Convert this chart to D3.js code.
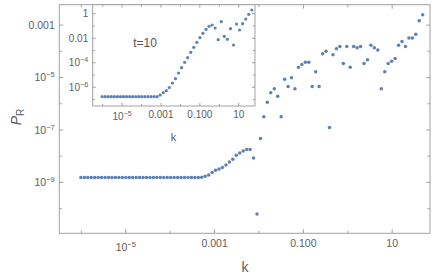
<!DOCTYPE html>
<html><head><meta charset="utf-8">
<script src="https://cdn.jsdelivr.net/npm/d3@7"></script>
<style>
html,body{margin:0;padding:0;background:#fff;}
svg{display:block;font-family:"Liberation Sans",Arial,sans-serif;}
</style></head>
<body><svg id="c" width="436" height="280"></svg>
<script>
// ---- data ----
const kMain = [1.00e-6,1.20e-6,1.43e-6,1.71e-6,2.05e-6,2.45e-6,2.93e-6,3.50e-6,4.19e-6,5.01e-6,
5.99e-6,7.17e-6,8.57e-6,1.03e-5,1.23e-5,1.47e-5,1.76e-5,2.10e-5,2.51e-5,3.00e-5,
3.59e-5,4.30e-5,5.14e-5,6.15e-5,7.36e-5,8.80e-5,1.05e-4,1.26e-4,1.51e-4,1.80e-4,
2.15e-4,2.58e-4,3.08e-4,3.69e-4,4.41e-4,5.27e-4,6.31e-4,7.54e-4,9.03e-4,1.08e-3,
1.29e-3,1.54e-3,1.85e-3,2.21e-3,2.64e-3,3.16e-3,3.78e-3,4.52e-3,5.41e-3,6.47e-3,
7.74e-3,9.25e-3,1.11e-2,1.32e-2,1.58e-2,1.89e-2,2.27e-2,2.71e-2,3.24e-2,3.88e-2,
4.64e-2,5.55e-2,6.63e-2,7.94e-2,9.49e-2,0.1135,0.136,0.162,0.194,0.232,
0.278,0.332,0.398,0.476,0.569,0.680,0.814,0.973,1.164,1.392,
1.665,1.992,2.383,2.850,3.409,4.077,4.877,5.833,6.977,8.345,
9.980,11.94,14.28,17.08,20.43,24.43,29.23,34.96,41.81,50.0];
const prMain = [1.46e-9,1.46e-9,1.46e-9,1.46e-9,1.46e-9,1.46e-9,1.46e-9,1.46e-9,1.46e-9,1.46e-9,
1.46e-9,1.46e-9,1.46e-9,1.46e-9,1.46e-9,1.46e-9,1.46e-9,1.46e-9,1.46e-9,1.46e-9,
1.46e-9,1.46e-9,1.46e-9,1.46e-9,1.46e-9,1.46e-9,1.46e-9,1.46e-9,1.46e-9,1.46e-9,
1.46e-9,1.46e-9,1.46e-9,1.47e-9,1.48e-9,1.50e-9,1.64e-9,1.85e-9,2.27e-9,2.77e-9,
3.13e-9,3.51e-9,4.46e-9,5.80e-9,7.29e-9,1.04e-8,1.28e-8,1.52e-8,1.71e-8,1.71e-8,
8.24e-9,6.0e-11,4.5e-8,3.03e-7,1.09e-6,2.53e-6,3.55e-6,1.85e-6,3.03e-7,8.24e-6,
4.34e-6,9.31e-6,3.55e-6,2.37e-5,3.0e-5,3.67e-5,3.67e-5,4.34e-6,1.58e-5,4.34e-6,
7.67e-5,9.65e-5,1.18e-7,7.03e-5,1.19e-4,1.46e-4,3.27e-5,1.46e-4,2.37e-5,1.46e-4,
1.30e-4,1.46e-4,3.27e-5,4.53e-5,1.64e-4,1.30e-4,1.08e-4,3.55e-6,1.58e-5,3.27e-5,
4.01e-5,5.08e-5,1.64e-4,2.29e-4,1.46e-4,3.10e-4,3.10e-4,4.31e-4,1.40e-3,2.37e-3];

const kInset = [1.00e-6,1.44e-6,2.06e-6,2.96e-6,4.25e-6,6.11e-6,8.77e-6,1.26e-5,1.81e-5,2.60e-5,
3.73e-5,5.35e-5,7.68e-5,1.10e-4,1.58e-4,2.28e-4,3.27e-4,4.69e-4,6.73e-4,9.67e-4,
1.39e-3,1.99e-3,2.86e-3,4.11e-3,5.90e-3,8.48e-3,1.22e-2,1.75e-2,2.51e-2,3.60e-2,
5.17e-2,7.43e-2,0.1066,0.1531,0.2199,0.3157,0.4533,0.6509,0.9347,1.342,
1.927,2.767,3.973,5.706,8.194,11.77,16.89,24.26,34.83,50.0];
const prInset = [1.54e-7,1.54e-7,1.54e-7,1.54e-7,1.54e-7,1.54e-7,1.54e-7,1.54e-7,1.54e-7,1.54e-7,
1.54e-7,1.54e-7,1.54e-7,1.54e-7,1.54e-7,1.54e-7,1.54e-7,1.54e-7,1.54e-7,2.11e-7,
3.26e-7,4.74e-7,8.67e-7,2.02e-6,4.54e-6,1.33e-5,3.60e-5,9.93e-5,2.36e-4,6.52e-4,
1.67e-3,4.27e-3,1.02e-2,2.32e-2,4.93e-2,8.67e-2,0.111,0.063,6.97e-3,0.206,
1.32e-2,7.52e-3,5.52e-2,2.57e-3,0.134,4.32e-2,0.141,0.342,0.828,1.86];

const mainXTicks = [1e-5, 1e-3, 0.1, 10];
const mainXLabels = ["10^\u22125", "0.001", "0.100", "10"];
const mainXMinor = [1e-6, 1e-4, 1e-2, 1];
const mainYTicks = [1e-9, 1e-7, 1e-5, 1e-3];
const mainYLabels = ["10^\u22129", "10^\u22127", "10^\u22125", "0.001"];
const mainYMinor = [1e-10, 1e-8, 1e-6, 1e-4];
const insetXTicks = [1e-5, 1e-3, 0.1, 10];
const insetXLabels = ["10^\u22125", "0.001", "0.100", "10"];
const insetXMinor = [1e-6, 1e-4, 1e-2, 1];
const insetYTicks = [1e-6, 1e-4, 1e-2, 1];
const insetYLabels = ["10^\u22126", "10^\u22124", "0.01", "1"];
const insetYMinor = [1e-7, 1e-5, 1e-3, 0.1];
const insetTitle = "t=10";

// ---- layout ----
const frameCol = "#a0a0a0", textCol = "#606060", dotCol = "#5e81b5";
const M = {l: 59.3, r: 430, t: 4.7, b: 233.3};
const I = {l: 92.7, r: 255, t: 4.7, b: 106};

const svg = d3.select("#c");
const x = d3.scaleLog().domain([Math.pow(10,-6.486), Math.pow(10,1.863)]).range([M.l, M.r]);
const y = d3.scaleLog().domain([Math.pow(10,-10.96), Math.pow(10,-2.24)]).range([M.b, M.t]);
const xi = d3.scaleLog().domain([Math.pow(10,-6.486), Math.pow(10,1.863)]).range([I.l, I.r]);
const yi = d3.scaleLog().domain([Math.pow(10,-7.574), Math.pow(10,0.703)]).range([I.b, I.t]);

function setLabels(g, vals, labels, kind, offs) {
  g.selectAll(".tick text").each(function(d){
    const lab = labels[vals.indexOf(d)];
    const t = d3.select(this).text(null).attr("fill", textCol);
    const isPow = lab.indexOf("^") >= 0;
    if (isPow) {
      const parts = lab.split("^");
      t.append("tspan").text(parts[0]);
      t.append("tspan").attr("font-size","0.72em").attr("dy","-0.55em").text(parts[1]);
    } else t.text(lab);
    if (kind === "bottom") t.attr("dy", null).attr("y", isPow ? offs[1] : offs[0]);
    else t.attr("dy", "0.35em").attr("x", offs[0]);
  });
}
function styleAxis(g) {
  g.select(".domain").remove();
  g.selectAll(".tick line").attr("stroke", frameCol);
}

function drawAxes(gx, gy, box, xs, ys, xt, xl, xm, yt, yl, ym, majLen, minLen, fs, bOffs, lOff) {
  // bottom major
  const b1 = svg.append("g").attr("transform", `translate(0,${box.b})`)
    .call(d3.axisBottom(xs).tickValues(xt).tickSize(-majLen).tickSizeOuter(0))
    .attr("font-size", fs).attr("font-family", null);
  styleAxis(b1); setLabels(b1, xt, xl, "bottom", bOffs);
  const b2 = svg.append("g").attr("transform", `translate(0,${box.b})`)
    .call(d3.axisBottom(xs).tickValues(xm).tickSize(-minLen).tickFormat(() => "").tickSizeOuter(0));
  styleAxis(b2);
  // top
  const t1 = svg.append("g").attr("transform", `translate(0,${box.t})`)
    .call(d3.axisTop(xs).tickValues(xt).tickSize(-majLen).tickFormat(() => "").tickSizeOuter(0));
  styleAxis(t1);
  const t2 = svg.append("g").attr("transform", `translate(0,${box.t})`)
    .call(d3.axisTop(xs).tickValues(xm).tickSize(-minLen).tickFormat(() => "").tickSizeOuter(0));
  styleAxis(t2);
  // left major
  const l1 = svg.append("g").attr("transform", `translate(${box.l},0)`)
    .call(d3.axisLeft(ys).tickValues(yt).tickSize(-majLen).tickSizeOuter(0))
    .attr("font-size", fs).attr("font-family", null);
  styleAxis(l1); setLabels(l1, yt, yl, "left", [lOff]);
  const l2 = svg.append("g").attr("transform", `translate(${box.l},0)`)
    .call(d3.axisLeft(ys).tickValues(ym).tickSize(-minLen).tickFormat(() => "").tickSizeOuter(0));
  styleAxis(l2);
  // right
  const r1 = svg.append("g").attr("transform", `translate(${box.r},0)`)
    .call(d3.axisRight(ys).tickValues(yt).tickSize(-majLen).tickFormat(() => "").tickSizeOuter(0));
  styleAxis(r1);
  const r2 = svg.append("g").attr("transform", `translate(${box.r},0)`)
    .call(d3.axisRight(ys).tickValues(ym).tickSize(-minLen).tickFormat(() => "").tickSizeOuter(0));
  styleAxis(r2);
  // frame
  svg.append("rect").attr("x", box.l).attr("y", box.t)
    .attr("width", box.r - box.l).attr("height", box.b - box.t)
    .attr("fill", "none").attr("stroke", frameCol).attr("stroke-width", 1);
}

// main points
svg.append("g").selectAll("circle").data(kMain).join("circle")
  .attr("cx", d => x(d)).attr("cy", (d, i) => y(prMain[i])).attr("r", 1.75).attr("fill", dotCol);

drawAxes(null, null, M, x, y, mainXTicks, mainXLabels, mainXMinor, mainYTicks, mainYLabels, mainYMinor,
  4, 2.5, 10.5, [14.2, 17.5], -4.5);

// axis titles
svg.append("text").attr("x", 245).attr("y", 272).attr("text-anchor", "middle")
  .attr("font-size", 14).attr("fill", textCol).text("k");
const pr = svg.append("text").attr("transform", "translate(20.5,117) rotate(-90)")
  .attr("text-anchor", "middle").attr("font-size", 14).attr("fill", textCol);
pr.append("tspan").attr("font-style", "italic").text("P");
pr.append("tspan").attr("font-size", "0.72em").attr("dy", "0.3em").text("R");

// inset
svg.append("rect").attr("x", I.l).attr("y", I.t).attr("width", I.r - I.l).attr("height", I.b - I.t).attr("fill", "#fff");
svg.append("g").selectAll("circle").data(kInset).join("circle")
  .attr("cx", d => xi(d)).attr("cy", (d, i) => yi(prInset[i])).attr("r", 1.6).attr("fill", dotCol);
drawAxes(null, null, I, xi, yi, insetXTicks, insetXLabels, insetXMinor, insetYTicks, insetYLabels, insetYMinor,
  3, 2, 10, [12.3, 14], -4.5);
svg.append("text").attr("x", 173.5).attr("y", 140.5).attr("text-anchor", "middle")
  .attr("font-size", 11).attr("fill", textCol).text("k");
svg.append("text").attr("x", 145).attr("y", 47).attr("text-anchor", "middle")
  .attr("font-size", 12).attr("fill", "#555").text(insetTitle);
</script></body></html>
